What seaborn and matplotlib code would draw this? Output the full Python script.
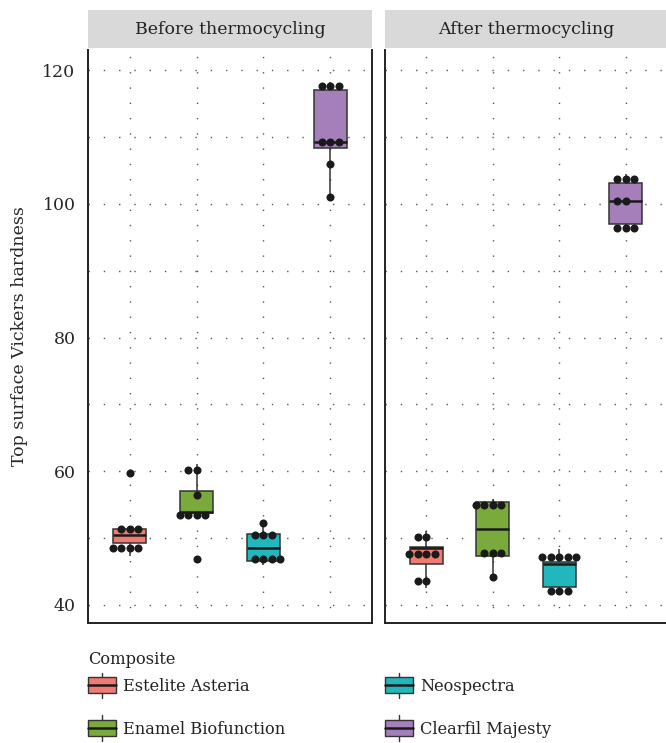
import numpy as np
import pandas as pd
import seaborn as sns
import matplotlib.pyplot as plt
from matplotlib.patches import Rectangle
from matplotlib.lines import Line2D
from matplotlib.legend_handler import HandlerBase

# hardness values (8 specimens per group)
composites = ["Estelite Asteria", "Enamel Biofunction", "Neospectra", "Clearfil Majesty"]
conditions = ["Before thermocycling", "After thermocycling"]
colors = ["#F07B73", "#7AA93C", "#21B7BC", "#A57FBA"]

before_estelite = [47.3, 48.9, 49.3, 49.7, 51.3, 51.4, 51.5, 59.8]
before_enamel = [46.9, 53.0, 53.93, 53.93, 54.0, 56.4, 59.2, 61.1]
before_neo = [45.9, 46.2, 46.6, 47.7, 49.3, 50.3, 51.5, 52.3]
before_clearfil = [101.0, 106.0, 109.1, 109.1, 109.5, 117.0, 117.0, 118.2]

after_estelite = [42.5, 44.6, 46.6, 48.4, 48.5, 48.5, 49.2, 51.0]
after_enamel = [44.2, 47.0, 47.5, 48.6, 54.0, 55.2, 55.9, 55.9]
after_neo = [41.6, 42.7, 42.7, 46.0, 46.2, 46.3, 46.7, 48.3]
after_clearfil = [95.8, 97.0, 97.0, 100.0, 100.8, 103.0, 103.6, 104.4]

values = {
    "Before thermocycling": [before_estelite, before_enamel, before_neo, before_clearfil],
    "After thermocycling": [after_estelite, after_enamel, after_neo, after_clearfil],
}


def dot_bins(vals, width=2.5):
    # dot-density binning like geom_dotplot: each dot sits at its bin centre
    vals = np.sort(vals)
    out = []
    i = 0
    while i < len(vals):
        j = i
        while j + 1 < len(vals) and vals[j + 1] < vals[i] + width:
            j += 1
        out += [(vals[i] + vals[j]) / 2] * (j - i + 1)
        i = j + 1
    return out


rows = []
for cond in conditions:
    for comp, vals in zip(composites, values[cond]):
        for v, d in zip(sorted(vals), dot_bins(vals)):
            rows.append({"Condition": cond, "Composite": comp, "Hardness": v, "Dot": d})
df = pd.DataFrame(rows)

sns.set_style("white")
plt.rcParams["font.family"] = ["DejaVu Serif"]
plt.rcParams["text.color"] = "#222222"

W, H = 666, 743
fig = plt.figure(figsize=(W / 100, H / 100), dpi=100)


def rect(x0, y0, x1, y1):
    return [x0 / W, 1 - y1 / H, (x1 - x0) / W, (y1 - y0) / H]


panels = [(88, 372), (385, 667)]
palette = dict(zip(composites, colors))

for k, cond in enumerate(conditions):
    x0, x1 = panels[k]
    ax = fig.add_axes(rect(x0, 50, x1, 623))
    sub = df[df["Condition"] == cond]
    sns.boxplot(data=sub, x="Composite", y="Hardness", hue="Composite", order=composites,
                palette=palette, saturation=1, width=0.5, showfliers=False, showcaps=False,
                legend=False, ax=ax, linewidth=1.1, linecolor="#333333",
                medianprops=dict(color="#1a1a1a", linewidth=1.8))
    sns.swarmplot(data=sub, x="Composite", y="Dot", order=composites, color="#1a1a1a",
                  size=5.8, ax=ax, zorder=5)
    ax.set_xlim(-0.62, 3.62)
    ax.set_ylim(37.3, 123.0)
    ax.set_yticks([40, 60, 80, 100, 120])
    ax.set_yticks([50, 70, 90, 110], minor=True)
    ax.set_axisbelow(True)
    ax.grid(which="both", axis="both", linestyle=(0, (1, 10)), color="#555555", linewidth=1.0)
    ax.tick_params(axis="x", length=0, labelbottom=False)
    ax.tick_params(axis="y", which="minor", length=0)
    ax.set_xlabel("")
    for side in ["left", "right", "bottom"]:
        ax.spines[side].set_color("#222222")
        ax.spines[side].set_linewidth(1.4)
    ax.spines["top"].set_visible(False)
    if k == 0:
        ax.set_ylabel("Top surface Vickers hardness", fontsize=12.5, labelpad=10)
        ax.tick_params(axis="y", which="major", length=5, width=1.2, color="#222222",
                       labelsize=12.5, pad=4)
    else:
        ax.set_ylabel("")
        ax.tick_params(axis="y", which="major", length=0, labelleft=False)

    # facet strip
    sax = fig.add_axes(rect(x0, 10, x1, 48))
    sax.set_facecolor("#D9D9D9")
    sax.set_xticks([])
    sax.set_yticks([])
    for s in sax.spines.values():
        s.set_visible(False)
    sax.text(0.5, 0.5, cond, ha="center", va="center", fontsize=12.5, transform=sax.transAxes)


class BoxKey(HandlerBase):
    # legend key drawn like a small boxplot
    def create_artists(self, legend, orig, xd, yd, width, height, fontsize, trans):
        fc = orig.get_facecolor()
        x0, y0 = -xd, -yd
        r = Rectangle((x0, y0), width, height, facecolor=fc,
                      edgecolor="#333333", linewidth=1.0, transform=trans)
        med = Line2D([x0, x0 + width], [y0 + height / 2] * 2, color="#1a1a1a", lw=1.8, transform=trans)
        w1 = Line2D([x0 + width / 2] * 2, [y0 + height, y0 + 1.27 * height], color="#333333", lw=1.0, transform=trans)
        w2 = Line2D([x0 + width / 2] * 2, [y0, y0 - 0.27 * height], color="#333333", lw=1.0, transform=trans)
        return [r, med, w1, w2]


handles = [Rectangle((0, 0), 1, 1, facecolor=c) for c in colors]
leg_kw = dict(loc="upper left", frameon=False, fontsize=11.7,
              handler_map={Rectangle: BoxKey()}, handlelength=1.72, handleheight=1.17,
              labelspacing=1.55, handletextpad=0.43, borderpad=0, borderaxespad=0)
fig.text(88 / W, 1 - 660 / H, "Composite", fontsize=11.7, ha="left", va="center")
fig.legend(handles[:2], composites[:2], bbox_to_anchor=(88 / W, 1 - 677 / H), **leg_kw)
fig.legend(handles[2:], composites[2:], bbox_to_anchor=(385 / W, 1 - 677 / H), **leg_kw)

fig.savefig("out.png", dpi=100)
